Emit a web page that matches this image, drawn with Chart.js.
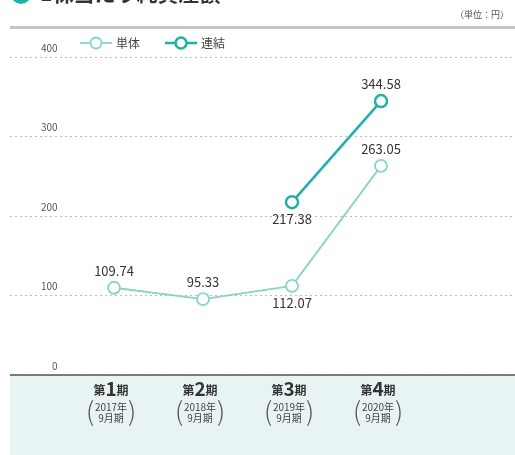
<!DOCTYPE html>
<html><head><meta charset="utf-8">
<script src="https://cdn.jsdelivr.net/npm/chart.js@4/dist/chart.umd.min.js"></script>
<style>html,body{margin:0;padding:0;background:#fff}canvas{display:block}</style>
</head><body>
<canvas id="c" width="515" height="455"></canvas>
<script>
const periods = ["第1期","第2期","第3期","第4期"];
const periodNums = ["1","2","3","4"];
const fiscalYears = ["2017年","2018年","2019年","2020年"];
const fiscalMonth = "9月期";
const seriesNames = ["単体","連結"];
const standalone = [109.74, 95.33, 112.07, 263.05];
const consolidated = [null, null, 217.38, 344.58];
const yTicks = [0, 100, 200, 300, 400];
const titleText = "1株当たり純資産額";
const unitText = "（単位：円）";

const FONT = '"Noto Sans CJK JP", "Noto Sans", sans-serif';
const colors = ['#86d4ca', '#1fb1a7'];
const labelPos = [[-1,-1,1,-1],[0,0,1,-1]];

function toXY(arr){ return arr.map((v,i)=>({x:i, y:v})); }

const decor = {
  id:'decor',
  beforeDraw(chart){
    const ctx = chart.ctx, W = chart.width, H = chart.height;
    const y0 = chart.scales.y.getPixelForValue(0);
    ctx.save();
    ctx.fillStyle = '#fff'; ctx.fillRect(0,0,W,H);
    ctx.fillStyle = '#e8f4f4'; ctx.fillRect(10, y0, W-10, H-y0);
    ctx.fillStyle = '#1fb1a7';
    ctx.beginPath(); ctx.arc(21, -6, 10, 0, Math.PI*2); ctx.fill();
    ctx.fillStyle = '#333'; ctx.font = 'bold 21px ' + FONT;
    ctx.textBaseline = 'alphabetic'; ctx.textAlign = 'left';
    ctx.fillText(titleText, 40, 1);
    ctx.fillStyle = '#c4c4c4'; ctx.fillRect(10, 26, W-10, 3);
    ctx.fillStyle = '#555'; ctx.font = '9px ' + FONT; ctx.textBaseline = 'middle';
    ctx.fillText(unitText, 455, 15);
    ctx.restore();
  },
  beforeDatasetsDraw(chart){
    const ctx = chart.ctx;
    const y0 = chart.scales.y.getPixelForValue(0);
    ctx.save();
    ctx.strokeStyle = '#555'; ctx.lineWidth = 1.5;
    ctx.beginPath(); ctx.moveTo(10, y0); ctx.lineTo(chart.width, y0); ctx.stroke();
    const xs = chart.scales.x;
    periods.forEach((p,i)=>{
      const cx = xs.getPixelForValue(i) - 3;
      const a = p.slice(0, 1), n = periodNums[i], b = p.slice(1 + n.length);
      ctx.fillStyle = '#333'; ctx.textBaseline = 'alphabetic'; ctx.textAlign = 'left';
      ctx.font = 'bold 12px ' + FONT; const wa = ctx.measureText(a).width, wb = ctx.measureText(b).width;
      ctx.font = 'bold 19px ' + FONT; const wn = ctx.measureText(n).width;
      let x = cx - (wa+wn+wb)/2; const by = 395;
      ctx.font = 'bold 12px ' + FONT; ctx.fillText(a, x, by); x += wa;
      ctx.font = 'bold 19px ' + FONT; ctx.fillText(n, x, by + 1); x += wn;
      ctx.font = 'bold 12px ' + FONT; ctx.fillText(b, x, by);
      ctx.fillStyle = '#444'; ctx.textAlign = 'center'; ctx.textBaseline = 'middle';
      ctx.font = '10px ' + FONT;
      ctx.fillText(fiscalYears[i], cx, 407);
      ctx.fillText(fiscalMonth, cx, 418);
      ctx.font = '200 26px ' + FONT; ctx.fillStyle = '#555';
      ctx.fillText('(', cx - 21, 411);
      ctx.fillText(')', cx + 21, 411);
    });
    ctx.restore();
  },
  afterDatasetsDraw(chart){
    const ctx = chart.ctx;
    ctx.save();
    ctx.fillStyle = '#333'; ctx.font = '13px ' + FONT;
    ctx.textAlign = 'center'; ctx.textBaseline = 'middle';
    chart.data.datasets.forEach((ds, di)=>{
      const meta = chart.getDatasetMeta(di);
      meta.data.forEach((pt, i)=>{
        const v = ds.data[i].y; if (v == null) return;
        const dir = labelPos[di][i];
        ctx.fillText(v.toFixed(2), pt.x, pt.y + dir*17);
      });
    });
    const items = [[80, 112], [165, 200]];
    chart.data.datasets.forEach((ds, di)=>{
      const [x0] = items[di]; const y = 43;
      ctx.strokeStyle = ds.borderColor; ctx.lineWidth = di ? 2.5 : 1.8;
      ctx.beginPath(); ctx.moveTo(x0, y); ctx.lineTo(x0 + 32, y); ctx.stroke();
      ctx.fillStyle = '#fff';
      ctx.beginPath(); ctx.arc(x0 + 16, y, 5.5, 0, Math.PI*2); ctx.fill(); ctx.stroke();
      ctx.fillStyle = '#444'; ctx.font = '12px ' + FONT; ctx.textAlign = 'left';
      ctx.fillText(ds.label, x0 + 36, y);
    });
    ctx.restore();
  }
};

new Chart(document.getElementById('c'), {
  type: 'line',
  data: {
    datasets: [
      { label: seriesNames[0], data: toXY(standalone), borderColor: colors[0], borderWidth: 1.8,
        pointRadius: 6, pointHoverRadius: 6, pointBackgroundColor: '#fff', pointBorderColor: colors[0], pointBorderWidth: 1.8 },
      { label: seriesNames[1], data: toXY(consolidated), borderColor: colors[1], borderWidth: 2.5,
        pointRadius: 6, pointHoverRadius: 6, pointBackgroundColor: '#fff', pointBorderColor: colors[1], pointBorderWidth: 2.5 }
    ]
  },
  options: {
    responsive: false, animation: false, devicePixelRatio: 1,
    layout: { autoPadding: false, padding: { top: 57, bottom: 80, left: 10, right: 0 } },
    plugins: { legend: { display: false }, title: { display: false }, tooltip: { enabled: false } },
    scales: {
      x: { type: 'linear', display: false, min: -1.1685, max: 4.5056,
           afterFit(axis){ axis.width = 0; axis.height = 0; } },
      y: {
        min: 0, max: 400,
        afterBuildTicks(axis){ axis.ticks = yTicks.map(v=>({value:v})); },
        afterFit(axis){ axis.width = 0; },
        grid: { color: '#bdbdbd', lineWidth: 1, drawTicks: false },
        border: { display: false, dash: [2, 3] },
        ticks: { mirror: true, crossAlign: 'far', padding: 31, labelOffset: -9,
                 color: '#555', font: { size: 10, family: FONT } }
      }
    }
  },
  plugins: [decor]
});
</script>
</body></html>
